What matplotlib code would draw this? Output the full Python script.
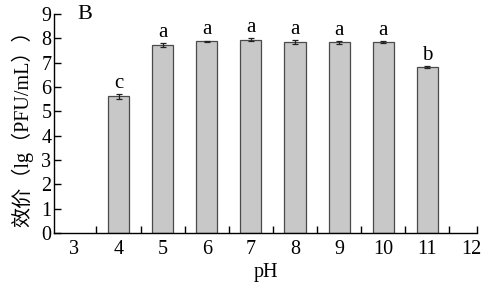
import matplotlib as ml
ml.use("Agg")
import matplotlib.pyplot as plt
import numpy as np

# data
ph = ['3', '4', '5', '6', '7', '8', '9', '10', '11', '12']
titer = [0, 5.62, 7.72, 7.88, 7.95, 7.86, 7.84, 7.85, 6.83, 0]
err = [0, 0.10, 0.08, 0.03, 0.05, 0.07, 0.06, 0.04, 0.04, 0]
sig = ['', 'c', 'a', 'a', 'a', 'a', 'a', 'a', 'b', '']

plt.rcParams['font.family'] = ['Liberation Serif', 'Noto Sans CJK SC']
plt.rcParams['font.size'] = 14.5

fig = plt.figure(figsize=(4.83, 2.94), dpi=100)
ax = fig.add_axes([0.112, 0.207, 0.876, 0.745])

x = np.arange(len(ph))
for i in range(len(ph)):
    if titer[i] <= 0:
        continue
    ax.bar(x[i], titer[i], width=0.48, color='#c8c8c8', edgecolor='#4a4a4a', linewidth=0.9)
    ax.errorbar(x[i], titer[i], yerr=err[i], fmt='none', ecolor='#222222',
                elinewidth=0.9, capsize=2.5, capthick=0.9)
    ax.text(x[i], titer[i] + err[i] + 0.05, sig[i], ha='center', va='bottom', fontsize=15)

ax.set_xlim(-0.46, 9.13)
ax.set_ylim(0, 9)
ax.set_yticks(range(10))
ax.set_xticks(x)
ax.set_xticklabels(ph)
ax.set_xticks(np.append(np.arange(0.5, 9, 1), 9.13), minor=True)
ax.tick_params(axis='x', which='major', length=0, pad=5)
ax.tick_params(axis='x', which='minor', direction='in', length=5, width=1)
ax.tick_params(axis='y', direction='in', length=5, width=1, pad=2)

for s in ['top', 'right']:
    ax.spines[s].set_visible(False)
for s in ['left', 'bottom']:
    ax.spines[s].set_linewidth(1)

ax.set_xlabel('pH', labelpad=3)
ax.set_ylabel('效价（lg（PFU/mL））', labelpad=6)
ax.text(0.055, 1.0, 'B', transform=ax.transAxes, ha='left', va='center', fontsize=16)

plt.savefig('out.png', dpi=100)
